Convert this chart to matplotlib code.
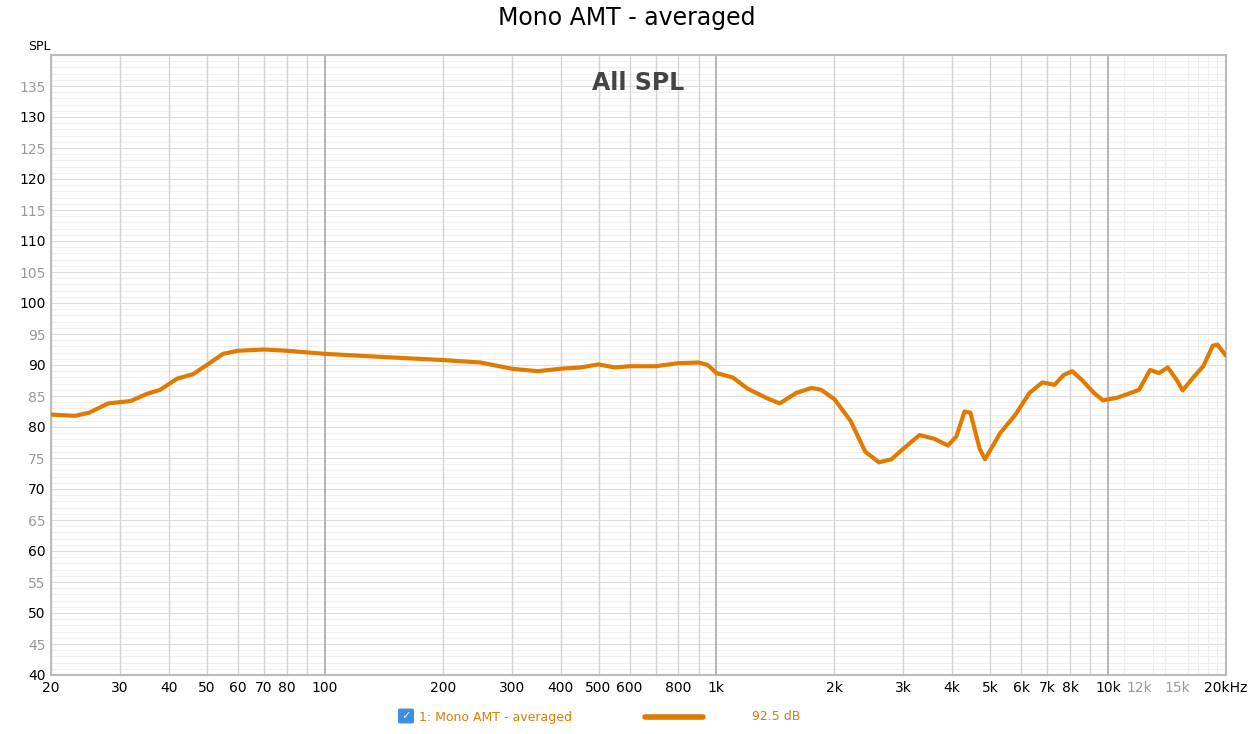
import matplotlib
matplotlib.use("Agg")
import matplotlib.pyplot as plt
from matplotlib.patches import FancyBboxPatch
import numpy as np

freq = [20,23,25,28,32,35,38,42,46,50,55,60,70,80,100,150,200,250,300,350,400,450,500,550,600,700,800,900,950,
        1000,1100,1200,1350,1450,1600,1750,1850,2000,2200,2400,2600,2800,3000,3300,3600,3900,4100,4300,4450,4700,4850,
        5300,5800,6300,6800,7300,7700,8100,8600,9200,9700,10500,11200,12000,12800,13500,14200,15000,15500,16500,17500,18500,19000,20000]
spl = [82,81.8,82.3,83.8,84.2,85.3,86,87.8,88.5,90,91.8,92.3,92.5,92.3,91.8,91.2,90.8,90.4,89.4,89,89.4,89.6,90.1,89.6,89.8,89.8,90.3,90.4,90,
       88.7,88,86.2,84.6,83.8,85.5,86.3,86,84.5,81,76,74.3,74.8,76.5,78.7,78.1,77,78.5,82.5,82.3,76.5,74.8,
       79,82,85.5,87.2,86.8,88.4,89,87.5,85.5,84.3,84.7,85.3,86,89.2,88.7,89.6,87.5,85.9,88,89.8,93.1,93.3,91.5]
xticks = [20,30,40,50,60,70,80,100,200,300,400,500,600,800,1000,2000,3000,4000,5000,6000,7000,8000,10000,12000,15000,20000]
xlabels = ["20","30","40","50","60","70","80","100","200","300","400","500","600","800","1k","2k","3k","4k","5k","6k","7k","8k","10k","12k","15k","20kHz"]
yticks = list(range(40, 140, 5))

W, H = 1253, 734
fig = plt.figure(figsize=(W/100, H/100), dpi=100)
ax = fig.add_axes([51/W, (H-675)/H, (1226-51)/W, (675-55)/H])
col = "#E07B00"
ax.set_xscale("log")
ax.set_xlim(20, 20000)
ax.set_ylim(40, 140)
for y in np.arange(40, 140.1, 1):
    ax.axhline(y, color="#EEEEEE" if y % 5 else "#DDDDDD", lw=0.8, zorder=0)
minor = []
for d in [10,100,1000,10000]:
    for m in range(2,10):
        minor.append(d*m)
for f in [v for v in minor if 20 <= v <= 20000]:
    c = "#E6E6E6" if f >= 10000 and f % 10000 else "#D4D4D4"
    ax.axvline(f, color=c, lw=1, zorder=0)
for f in [100,1000,10000]:
    ax.axvline(f, color="#A8A8A8", lw=1.2, zorder=0)
for f in [11000,13000,14000,16000,17000,18000,19000]:
    ax.axvline(f, color="#EEEEEE", lw=0.8, zorder=0)
ax.plot(freq, spl, color=col, lw=3, solid_capstyle="round", solid_joinstyle="round", zorder=3)
ax.set_xticks(xticks)
ax.set_xticklabels(xlabels, fontsize=10)
ax.xaxis.set_minor_locator(matplotlib.ticker.NullLocator())
for t, l in zip(ax.get_xticklabels(), xlabels):
    if l in ("12k", "15k"):
        t.set_color("#999999")
ax.set_yticks(yticks)
ax.set_yticklabels([str(y) for y in yticks], fontsize=10)
for t, y in zip(ax.get_yticklabels(), yticks):
    t.set_color("#999999" if y % 10 else "black")
ax.tick_params(length=0, pad=4)
for s in ax.spines.values():
    s.set_color("#BBBBBB"); s.set_linewidth(1.5)
ax.text(0.5, 0.975, "All SPL", transform=ax.transAxes, ha="center", va="top",
        fontsize=17, fontweight="bold", color="#444444")
fig.text(0.5, 1-18/H, "Mono AMT - averaged", ha="center", va="center", fontsize=17)
fig.text(28/W, 1-46/H, "SPL", ha="left", va="center", fontsize=9)
fig.patches.append(FancyBboxPatch((400/W, 1-722/H), 12/W, 12/H, boxstyle="round,pad=0.001",
                                  transform=fig.transFigure, fc="#3B8FE0", ec="#3B8FE0"))
fig.text(406/W, 1-716/H, "✓", ha="center", va="center", fontsize=8, color="white")
fig.text(419/W, 1-717/H, "1: Mono AMT - averaged", ha="left", va="center", fontsize=9, color=col)
fig.add_artist(plt.Line2D([645/W, 703/W], [1-717/H, 1-717/H], color=col, lw=4, solid_capstyle="round"))
fig.text(752/W, 1-717/H, "92.5 dB", ha="left", va="center", fontsize=9, color=col)
fig.savefig("out.png", dpi=100)
